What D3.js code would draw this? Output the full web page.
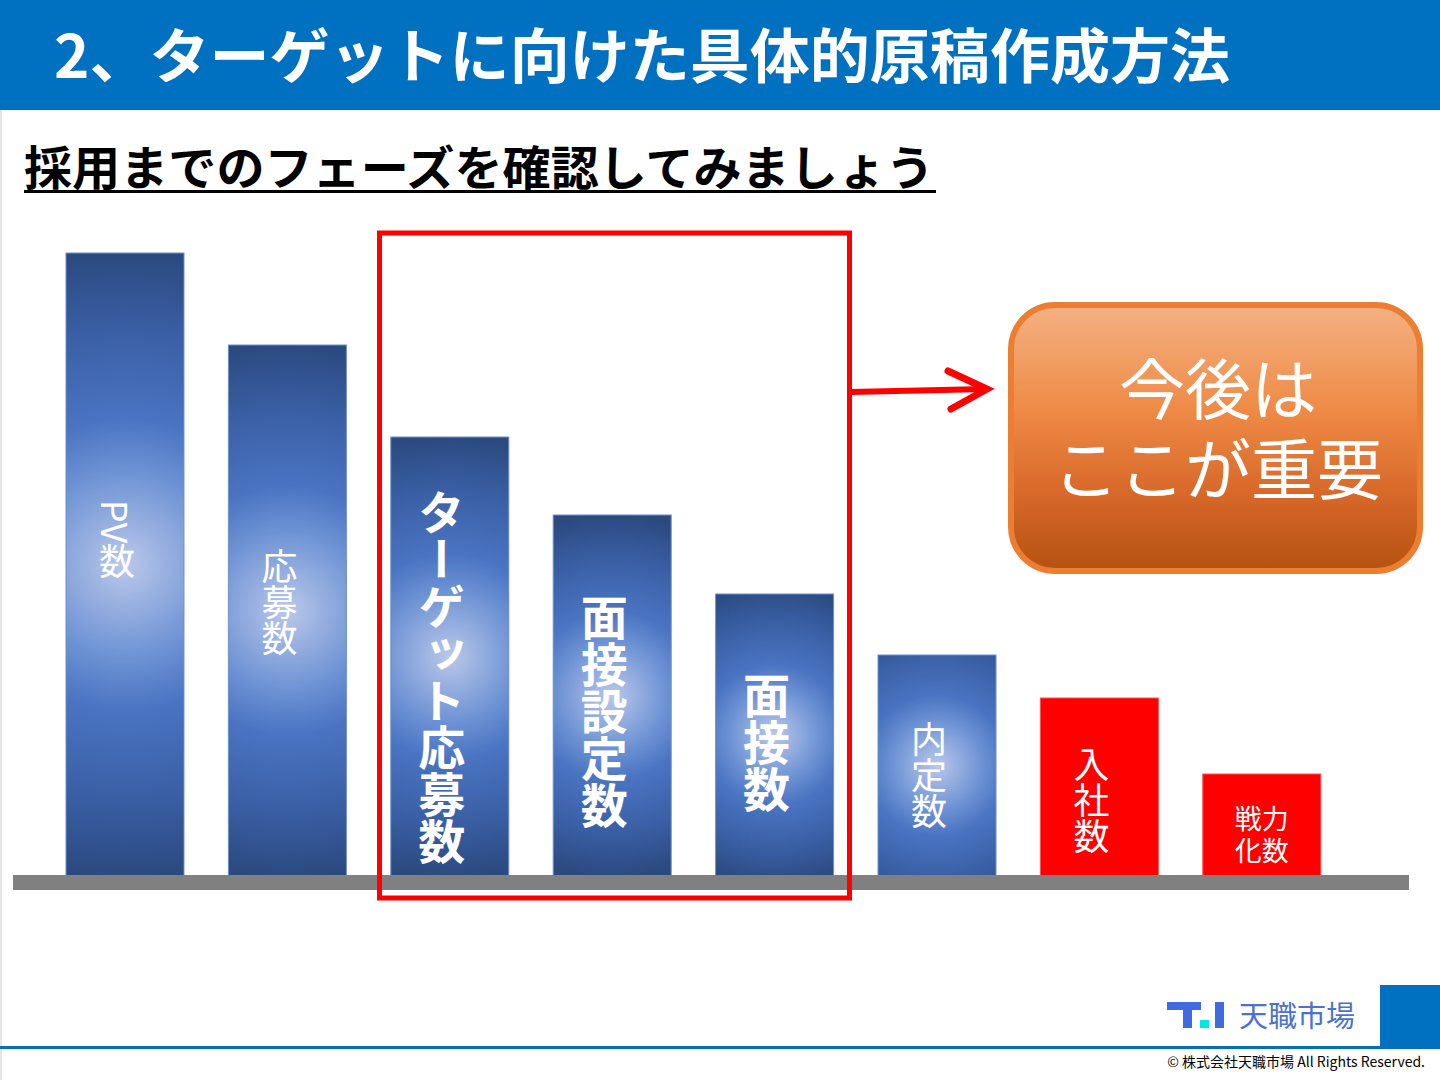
<!DOCTYPE html>
<html lang="ja">
<head>
<meta charset="utf-8">
<script src="https://cdn.jsdelivr.net/npm/d3@7/dist/d3.min.js"></script>
<style>
  html, body { margin: 0; padding: 0; background: #fff; }
  svg { display: block; }
  text { font-family: "Noto Sans CJK JP", "Noto Sans", sans-serif; }
</style>
</head>
<body>
<svg id="chart" width="1440" height="1080"></svg>
<script>
// ---------- data ----------
const phases = ["PV数", "応募数", "ターゲット応募数", "面接設定数", "面接数", "内定数", "入社数", "戦力化数"];
const values = [623, 531, 439, 361, 282, 221, 178, 102];
const highlighted = [false, false, true, true, true, false, false, false]; // inside red frame
const redPhases = ["入社数", "戦力化数"];
const titleText = "2、ターゲットに向けた具体的原稿作成方法";
const subtitleText = "採用までのフェーズを確認してみましょう";
const calloutLines = ["今後は", "ここが重要"];
const brandName = "天職市場";
const copyrightText = "© 株式会社天職市場 All Rights Reserved.";

// ---------- layout ----------
const W = 1440, H = 1080;
const svg = d3.select("#chart");
const defs = svg.append("defs");

const x = d3.scaleBand().domain(phases).range([66, 1320.8]).paddingInner(0.2734).paddingOuter(0);
const y = d3.scaleLinear().domain([0, d3.max(values)]).range([876, 253]);

// left slide border
svg.append("rect").attr("x", 0).attr("y", 110).attr("width", 2).attr("height", H - 110).attr("fill", "#e6e6e6");

// title bar
svg.append("rect").attr("x", 0).attr("y", 0).attr("width", W).attr("height", 110).attr("fill", "#0070C0");
svg.append("text").attr("x", 54).attr("y", 78)
  .attr("fill", "#fff").attr("font-size", 59).attr("font-weight", 700)
  .attr("textLength", 1176).attr("lengthAdjust", "spacingAndGlyphs")
  .text(titleText);

// subtitle
svg.append("text").attr("x", 24).attr("y", 185)
  .attr("fill", "#000").attr("font-size", 47).attr("font-weight", 700)
  .attr("textLength", 910).attr("lengthAdjust", "spacingAndGlyphs")
  .text(subtitleText);
svg.append("rect").attr("x", 24).attr("y", 190).attr("width", 912).attr("height", 3).attr("fill", "#000");

// gradients per bar
const data = phases.map((p, i) => ({ phase: p, value: values[i], hl: highlighted[i], red: redPhases.includes(p) }));
data.forEach((d, i) => {
  const bx = x(d.phase), bw = x.bandwidth();
  const top = y(d.value), bot = y(0), h = bot - top;
  const g = defs.append("radialGradient").attr("id", "bg" + i)
    .attr("gradientUnits", "userSpaceOnUse")
    .attr("cx", bx + bw / 2).attr("cy", top + h / 2).attr("r", Math.max(h / 2, 150));
  [[0, "#bac8ea"], [0.3, "#6d92d4"], [0.47, "#4a74c2"], [0.75, "#3a5fa5"], [1, "#2b4a80"]]
    .forEach(s => g.append("stop").attr("offset", s[0]).attr("stop-color", s[1]));
});

// bars
svg.append("g").selectAll("rect").data(data).join("rect")
  .attr("x", d => x(d.phase))
  .attr("y", d => y(d.value))
  .attr("width", x.bandwidth())
  .attr("height", d => y(0) - y(d.value) + 2)
  .attr("fill", (d, i) => d.red ? "#FF0000" : `url(#bg${i})`)
  .attr("stroke", d => d.red ? "#ff5050" : "#6f8fc8")
  .attr("stroke-width", 1);

// baseline
svg.append("rect").attr("x", 13).attr("y", 875).attr("width", 1396).attr("height", 15).attr("fill", "#808080");

// labels
const labelStyle = {
  "PV数": { size: 36, weight: 400, dy: -25 },
  "応募数": { size: 36, weight: 400, dy: -8 },
  "ターゲット応募数": { size: 47, weight: 700, dy: 20 },
  "面接設定数": { size: 47, weight: 700, dy: 16 },
  "面接数": { size: 47, weight: 700, dy: 7 },
  "内定数": { size: 36, weight: 400, dy: 10 },
  "入社数": { size: 36, weight: 400, dy: 13 }
};
const labels = svg.append("g");
data.forEach(d => {
  const cx = x(d.phase) + x.bandwidth() / 2;
  const cy = (y(d.value) + y(0)) / 2;
  if (labelStyle[d.phase]) {
    const st = labelStyle[d.phase];
    labels.append("text")
      .attr("x", cx - 8).attr("y", cy + st.dy)
      .attr("fill", "#fff").attr("font-size", st.size).attr("font-weight", st.weight)
      .attr("text-anchor", "middle")
      .style("writing-mode", "vertical-rl")
      .text(d.phase);
  } else {
    // horizontal two-line label
    const parts = [d.phase.slice(0, 2), d.phase.slice(2)];
    const t = labels.append("text")
      .attr("fill", "#fff").attr("font-size", 27).attr("text-anchor", "middle");
    parts.forEach((s, k) => t.append("tspan")
      .attr("x", cx).attr("y", cy + 4 + k * 32).text(s));
  }
});

// red frame
svg.append("rect").attr("x", 379.5).attr("y", 233).attr("width", 470).attr("height", 665)
  .attr("fill", "none").attr("stroke", "#FF0000").attr("stroke-width", 5);

// arrow
svg.append("line").attr("x1", 851).attr("y1", 392).attr("x2", 986).attr("y2", 389)
  .attr("stroke", "#FF0000").attr("stroke-width", 6);
svg.append("path").attr("d", "M948,371 L987,389 L951,409")
  .attr("fill", "none").attr("stroke", "#FF0000").attr("stroke-width", 7)
  .attr("stroke-linecap", "round").attr("stroke-linejoin", "miter");

// callout box
const og = defs.append("linearGradient").attr("id", "og").attr("x1", 0).attr("y1", 0).attr("x2", 0).attr("y2", 1);
[[0, "#f4b183"], [0.4, "#ee8a45"], [0.7, "#d8692a"], [1, "#b5520f"]]
  .forEach(s => og.append("stop").attr("offset", s[0]).attr("stop-color", s[1]));
svg.append("rect").attr("x", 1011).attr("y", 305).attr("width", 409).attr("height", 266)
  .attr("rx", 44).attr("ry", 44)
  .attr("fill", "url(#og)").attr("stroke", "#ED7D31").attr("stroke-width", 6);
const ct = svg.append("text").attr("fill", "#fff").attr("font-size", 66).attr("text-anchor", "middle");
calloutLines.forEach((s, k) => ct.append("tspan")
  .attr("x", 1218).attr("y", 414 + k * 80).text(s));

// logo
const logo = svg.append("g");
logo.append("rect").attr("x", 1167).attr("y", 1002).attr("width", 34).attr("height", 8).attr("fill", "#4169E1");
logo.append("rect").attr("x", 1183).attr("y", 1002).attr("width", 9).attr("height", 26).attr("fill", "#4169E1");
logo.append("rect").attr("x", 1200).attr("y", 1020).attr("width", 9).attr("height", 8).attr("fill", "#00E8E0");
logo.append("rect").attr("x", 1215).attr("y", 1002).attr("width", 9).attr("height", 26).attr("fill", "#4169E1");
svg.append("text").attr("x", 1239).attr("y", 1027)
  .attr("fill", "#4a72d2").attr("font-size", 29).text(brandName);

// footer
svg.append("rect").attr("x", 1380).attr("y", 985).attr("width", 60).attr("height", 62).attr("fill", "#0070C0");
svg.append("rect").attr("x", 0).attr("y", 1046).attr("width", W).attr("height", 3).attr("fill", "#0070C0");
svg.append("text").attr("x", 1425).attr("y", 1067)
  .attr("fill", "#000").attr("font-size", 14).attr("text-anchor", "end")
  .text(copyrightText);
</script>
</body>
</html>
